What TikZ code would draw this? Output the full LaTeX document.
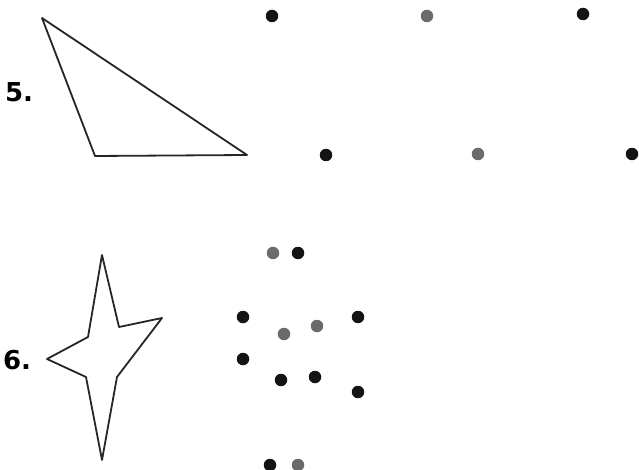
\documentclass[tikz,border=0pt]{standalone}
\usepackage{fontspec}
\setmainfont{DejaVu Sans}
\begin{document}
\begin{tikzpicture}[x=1pt,y=-1pt,
  blk/.style={circle,fill=black!92,inner sep=0pt,minimum size=12.5pt},
  gry/.style={circle,fill=black!58,inner sep=0pt,minimum size=12.5pt},
  outline/.style={draw=black!85,line width=1.8pt,line join=round},
  lbl/.style={font=\bfseries\fontsize{26}{26}\selectfont,inner sep=0pt}]
\useasboundingbox (0,0) rectangle (639,470);
% labels
\node[lbl] (l5) at (19,92) {5.};
\node[lbl] (l6) at (17,360) {6.};
% triangle
\draw[outline] (42,18) -- (95,156) -- (247,155) -- cycle;
% star
\draw[outline] (102,255) -- (119,327) -- (162,318) -- (117,377) -- (102,460)
  -- (86,377) -- (47,359) -- (88,337) -- cycle;
% dots for 5
\node[blk] (a1) at (272,16) {};
\node[gry] (a2) at (427,16) {};
\node[blk] (a3) at (583,14) {};
\node[blk] (b1) at (326,155) {};
\node[gry] (b2) at (478,154) {};
\node[blk] (b3) at (632,154) {};
% dots for 6
\node[gry] (c1) at (273,253) {};
\node[blk] (c2) at (298,253) {};
\node[blk] (c3) at (243,317) {};
\node[blk] (c4) at (358,317) {};
\node[gry] (c5) at (317,326) {};
\node[gry] (c6) at (284,334) {};
\node[blk] (c7) at (243,359) {};
\node[blk] (c8) at (281,380) {};
\node[blk] (c9) at (315,377) {};
\node[blk] (c10) at (358,392) {};
\node[blk] (c11) at (270,465) {};
\node[gry] (c12) at (298,465) {};
\end{tikzpicture}
\end{document}
